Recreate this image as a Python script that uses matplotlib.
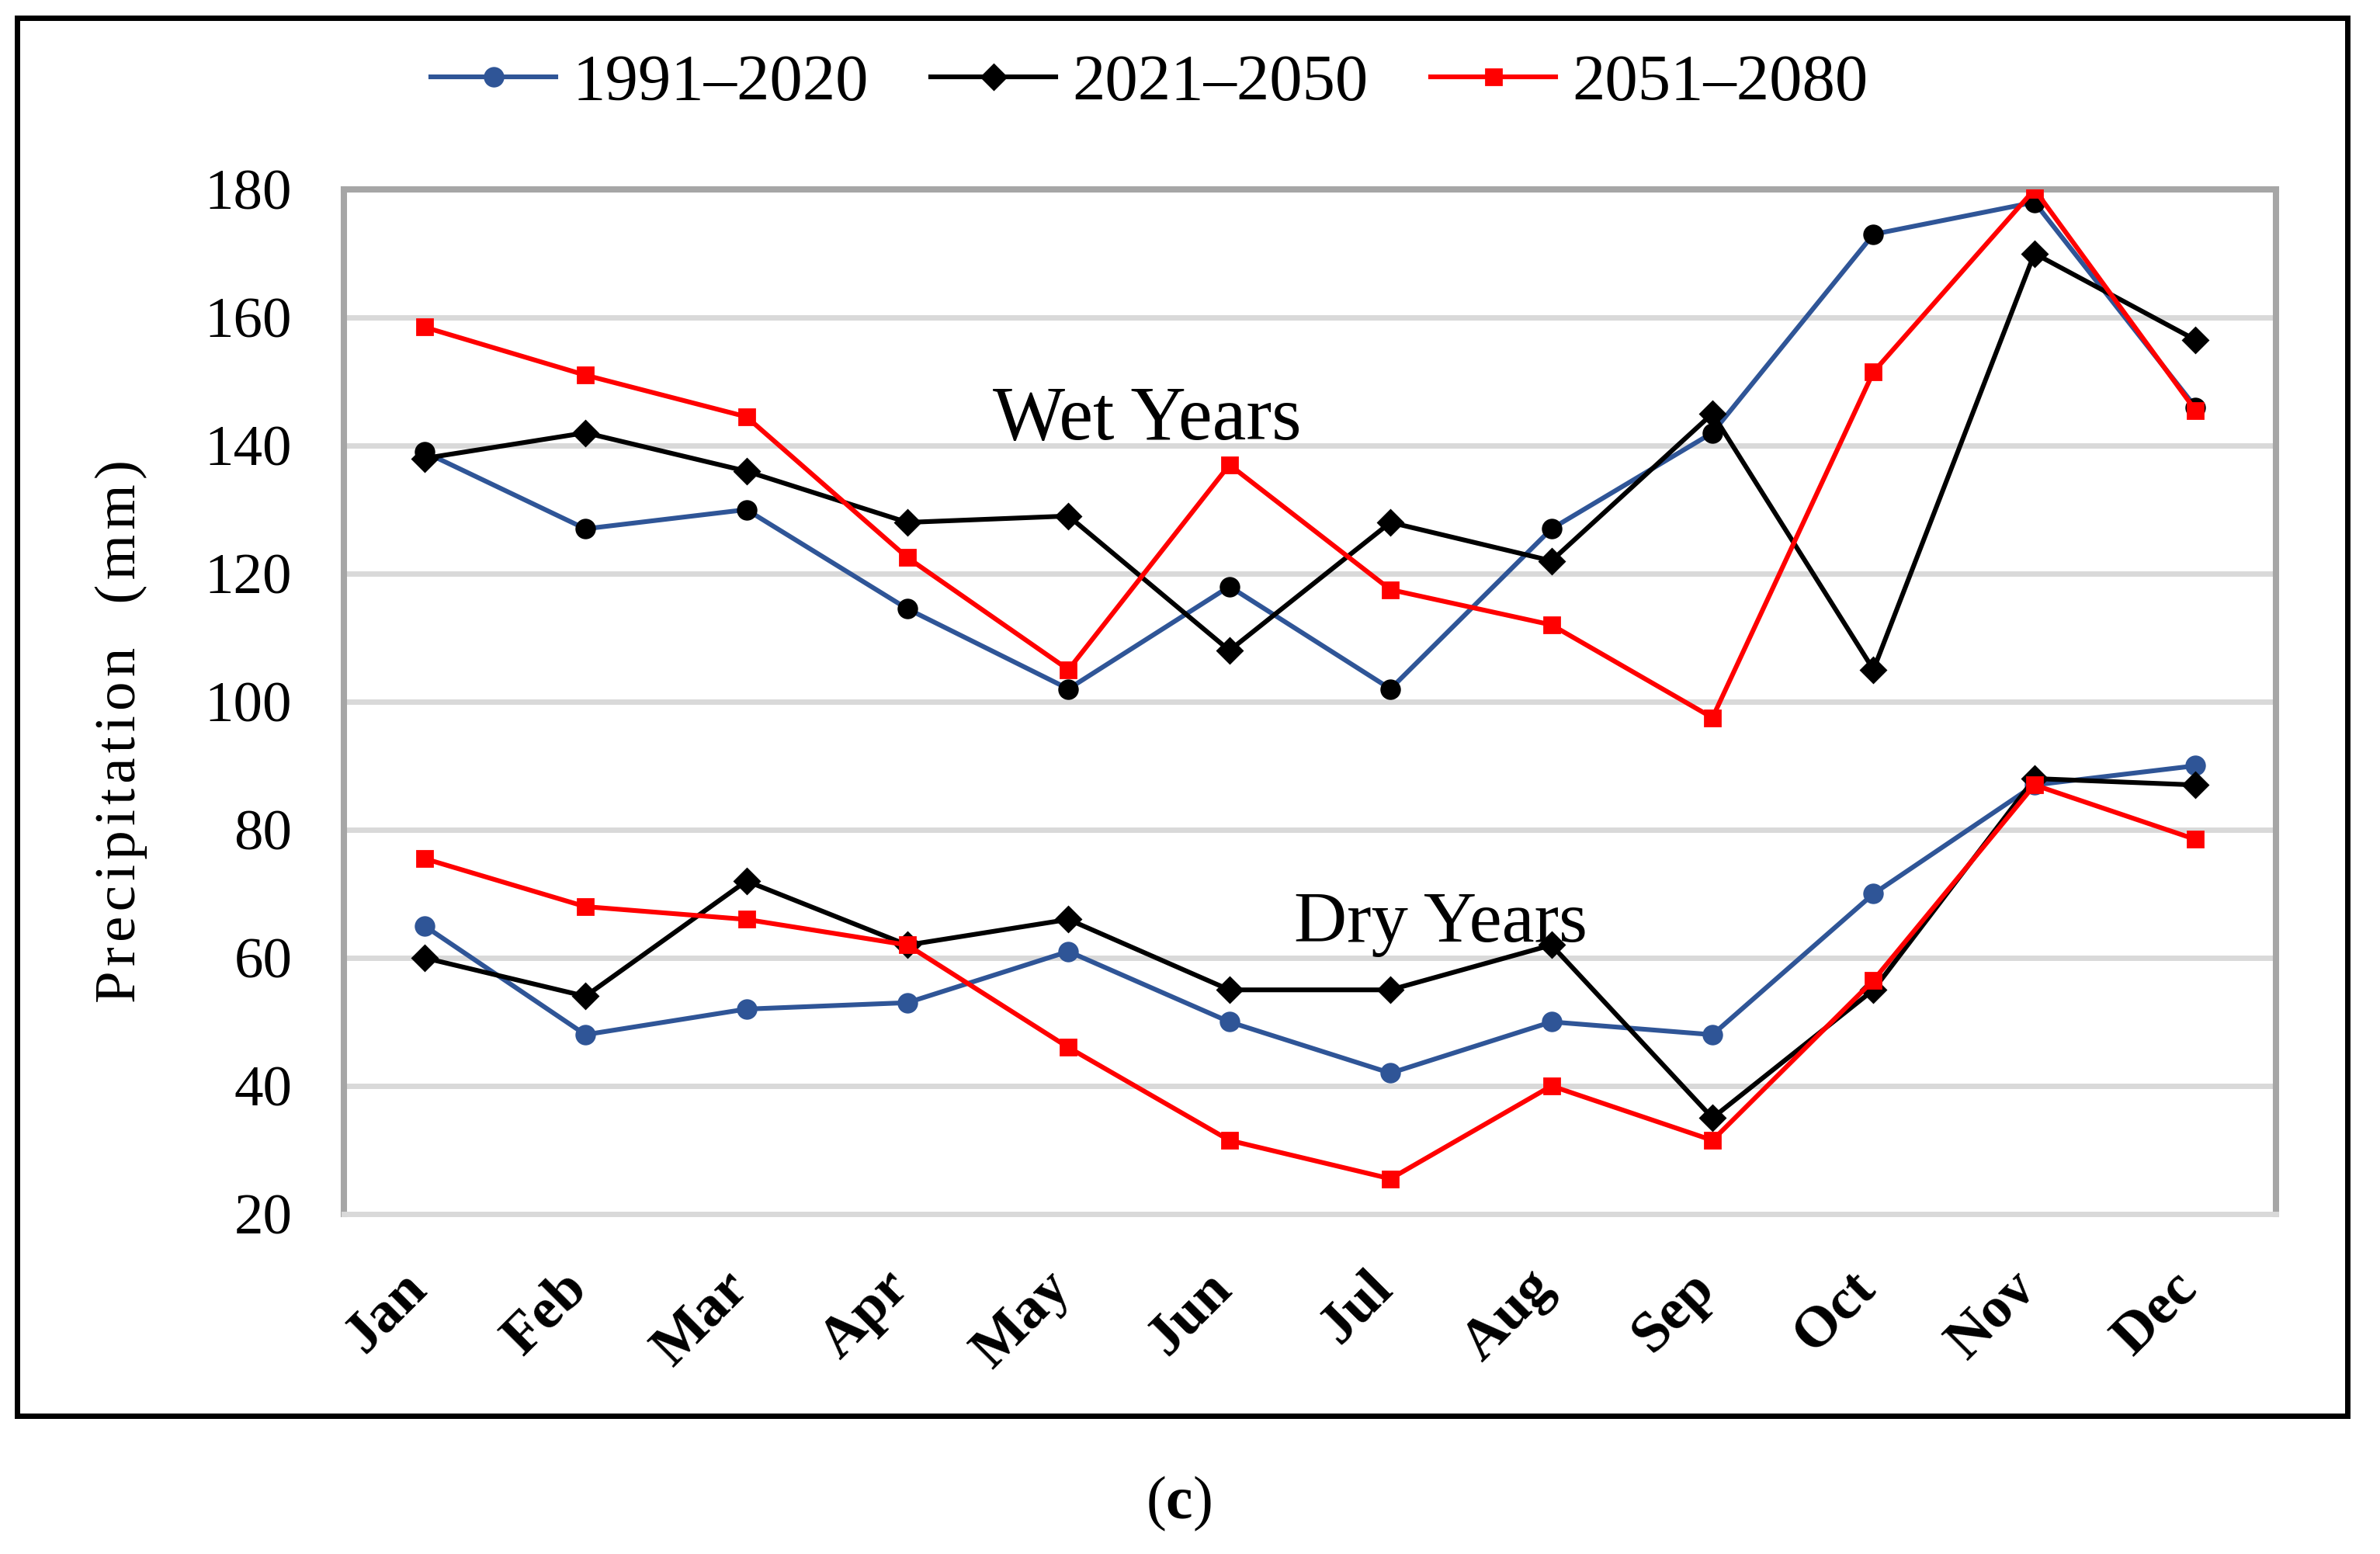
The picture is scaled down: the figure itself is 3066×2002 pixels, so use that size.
import matplotlib
matplotlib.use("Agg")
import matplotlib.pyplot as plt
import matplotlib.transforms as mtransforms
from matplotlib.patches import Rectangle

plt.rcParams["font.family"] = ["Liberation Serif", "DejaVu Serif"]
plt.rcParams["mathtext.fontset"] = "custom"
plt.rcParams["mathtext.rm"] = "Liberation Serif"
plt.rcParams["mathtext.bf"] = "Liberation Serif:bold"

months = ["Jan", "Feb", "Mar", "Apr", "May", "Jun",
          "Jul", "Aug", "Sep", "Oct", "Nov", "Dec"]
periods = ["1991\u20132020", "2021\u20132050", "2051\u20132080"]

# wet years
wet_1991 = [139, 127, 130, 114.5, 102, 118, 102, 127, 142, 173, 178, 146]
wet_2021 = [138, 142, 136, 128, 129, 108, 128, 122, 145, 105, 170, 156.5]
wet_2051 = [158.5, 151, 144.5, 122.5, 105, 137, 117.5, 112, 97.5, 151.5, 180, 145.5]

# dry years
dry_1991 = [65, 48, 52, 53, 61, 50, 42, 50, 48, 70, 87, 90]
dry_2021 = [60, 54, 72, 62, 66, 55, 55, 62, 35, 55, 88, 87]
dry_2051 = [75.5, 68, 66, 62, 46, 31.5, 25.5, 40, 31.5, 56.5, 87, 78.5]

y_ticks = [20, 40, 60, 80, 100, 120, 140, 160, 180]

BLUE = "#2F5597"
RED = "#FF0000"
GRID = "#D9D9D9"
SPINE = "#A6A6A6"

fig = plt.figure(figsize=(15.33, 10.01), dpi=200)
ax = fig.add_axes([0.1445, 0.2188, 0.9563 - 0.1445, 0.8781 - 0.2188])

x = list(range(len(months)))
lw = 2.2

ax.plot(x, wet_1991, color=BLUE, lw=lw, marker="o", ms=8.5,
        mfc="black", mec="black", zorder=3)
ax.plot(x, wet_2021, color="black", lw=lw, marker="D", ms=8,
        zorder=4)
ax.plot(x, wet_2051, color=RED, lw=lw, marker="s", ms=7.5,
        zorder=5)

ax.plot(x, dry_1991, color=BLUE, lw=lw, marker="o", ms=8.5,
        label=periods[0], zorder=3)
ax.plot(x, dry_2021, color="black", lw=lw, marker="D", ms=8,
        label=periods[1], zorder=4)
ax.plot(x, dry_2051, color=RED, lw=lw, marker="s", ms=7.5,
        label=periods[2], zorder=5)

ax.set_xlim(-0.5, 11.5)
ax.set_ylim(20, 180)
ax.set_yticks(y_ticks)
ax.set_xticks(x)
ax.set_xticklabels(months)
ax.tick_params(axis="both", length=0)
ax.tick_params(axis="y", labelsize=27, pad=24)
ax.tick_params(axis="x", labelsize=27, pad=22)

offset = mtransforms.ScaledTranslation(16 / 200, 0, fig.dpi_scale_trans)
for lab in ax.get_xticklabels():
    lab.set_rotation(45)
    lab.set_ha("right")
    lab.set_va("top")
    lab.set_fontweight("bold")
    lab.set_transform(lab.get_transform() + offset)

ax.yaxis.grid(True, color=GRID, lw=2.5, zorder=0)
ax.set_axisbelow(True)
for side in ["left", "top", "right"]:
    ax.spines[side].set_color(SPINE)
    ax.spines[side].set_linewidth(2.9)
ax.spines["bottom"].set_color(GRID)
ax.spines["bottom"].set_linewidth(2.5)

ax.text(3.53, 141, "Wet Years", fontsize=35.5, ha="left", va="baseline")
ax.text(5.40, 62.5, "Dry Years", fontsize=34, ha="left", va="baseline")

ylab = "\u200a".join("Precipitation") + "   " + "\u200a".join("(mm)")
fig.text(156 / 3066, 1 - 942 / 2002, ylab, rotation=90, fontsize=27,
         ha="center", va="center")

fig.legend(loc="center", bbox_to_anchor=(0.483, 0.946), ncol=3,
           frameon=False, fontsize=30.5, handlelength=1.9,
           handletextpad=0.25, columnspacing=0.95)

fig.text(1518 / 3066, 1 - 1937 / 2002, r"($\mathbf{c}$)", fontsize=28,
         ha="center", va="center")

fig.patches.append(Rectangle((0.0072, 0.0889), 0.9863 - 0.0072,
                             0.9885 - 0.0889, transform=fig.transFigure,
                             fill=False, edgecolor="black", lw=2.5))

fig.savefig("out.png", dpi=200)
